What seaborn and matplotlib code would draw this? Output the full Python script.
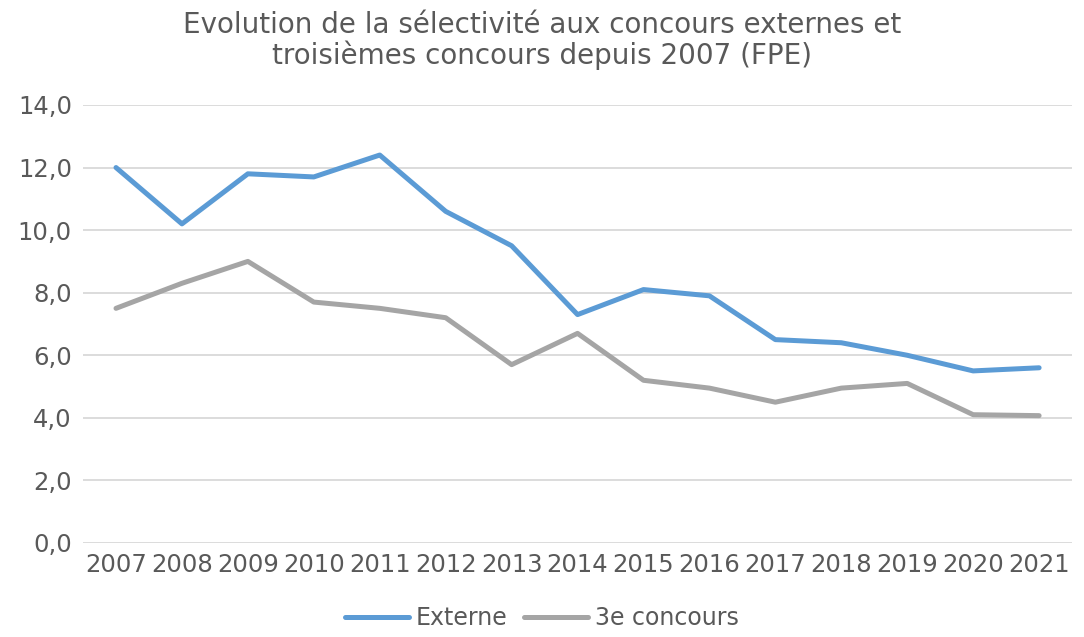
import pandas as pd
import matplotlib
matplotlib.use("Agg")
import matplotlib.pyplot as plt
import seaborn as sns
from matplotlib.ticker import FuncFormatter

years = list(range(2007, 2022))
externe = [12.0, 10.2, 11.8, 11.7, 12.4, 10.6, 9.5, 7.3, 8.1, 7.9, 6.5, 6.4, 6.0, 5.5, 5.6]
troisieme = [7.5, 8.3, 9.0, 7.7, 7.5, 7.2, 5.7, 6.7, 5.2, 4.95, 4.5, 4.95, 5.1, 4.1, 4.07]
series_names = ["Externe", "3e concours"]
colors = ["#5B9BD5", "#A5A5A5"]
text_col = "#595959"

df = pd.DataFrame({
    "year": years * 2,
    "value": externe + troisieme,
    "serie": [series_names[0]] * len(years) + [series_names[1]] * len(years),
})

sns.set_style("white")
plt.rcParams["font.family"] = ["DejaVu Sans"]

fig = plt.figure(figsize=(10.84, 6.37), dpi=100)
ax = fig.add_axes([0.0766, 0.1476, 0.9124, 0.6876])

sns.lineplot(data=df, x="year", y="value", hue="serie", palette=colors,
             linewidth=3.6, ax=ax, legend=False, solid_capstyle="round",
             solid_joinstyle="round")

ax.set_xlim(2006.5, 2021.5)
ax.set_ylim(0, 14)
ax.set_yticks(range(0, 15, 2))
ax.yaxis.set_major_formatter(FuncFormatter(lambda v, p: f"{v:.1f}".replace(".", ",")))
ax.set_xticks(years)
ax.set_xticklabels([str(y) for y in years])
ax.grid(axis="y", color="#D9D9D9", linewidth=1.3)
ax.set_axisbelow(True)
for s in ax.spines.values():
    s.set_visible(False)
ax.tick_params(axis="both", length=0, labelsize=17.5, colors=text_col)
ax.tick_params(axis="y", pad=8)
ax.tick_params(axis="x", pad=7)
ax.set_xlabel("")
ax.set_ylabel("")

fig.suptitle("Evolution de la sélectivité aux concours externes et\ntroisièmes concours depuis 2007 (FPE)",
             y=0.983, fontsize=20, color=text_col, linespacing=1.05)

handles = [plt.Line2D([], [], color=c, lw=3.6, solid_capstyle="round") for c in colors]
fig.legend(handles, series_names, loc="lower center", bbox_to_anchor=(0.5, -0.022), ncol=2,
           frameon=False, fontsize=17, labelcolor=text_col, handlelength=2.7,
           handletextpad=0.3, columnspacing=0.7)

fig.savefig("out.png", dpi=100)
